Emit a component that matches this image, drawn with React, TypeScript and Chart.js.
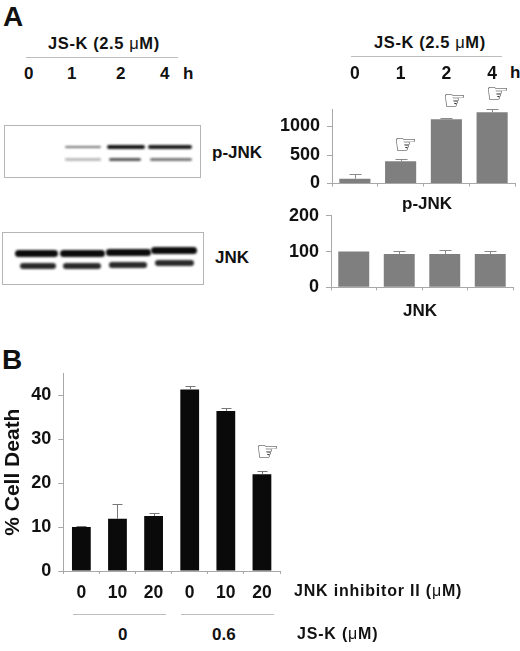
import React, { useEffect, useRef } from "react";
import { Chart, registerables } from "chart.js";

Chart.register(...registerables);

const FONT = '"Liberation Sans", Arial, sans-serif';

const timeLabels = ["0", "1", "2", "4"];
const pJnkValues = [85, 390, 1126, 1249];
const pJnkErrorTops = [161, 424, 1149, 1300];
const pJnkTicks = [0, 500, 1000];
const jnkValues = [100, 93, 93, 93];
const jnkErrorTops = [100, 101, 105, 101];
const jnkTicks = [0, 100, 200];
const inhibitorLabels = ["0", "10", "20", "0", "10", "20"];
const deathValues = [10, 11.9, 12.5, 41.3, 36.4, 22];
const deathErrorTops = [10.2, 15.2, 13.2, 42, 37.1, 22.7];
const deathTicks = [0, 10, 20, 30, 40];

const errorBars = {
  id: "errorBars",
  afterDatasetsDraw(chart: any, _a: any, opts: any) {
    const { ctx, scales } = chart;
    const tops: number[] = opts.tops;
    const values: number[] = chart.data.datasets[0].data;
    ctx.save();
    ctx.strokeStyle = opts.color;
    ctx.lineWidth = 1;
    tops.forEach((top, i) => {
      if (top <= values[i]) return;
      const x = Math.round(scales.x.getPixelForValue(i)) + 0.5;
      const y0 = scales.y.getPixelForValue(values[i]);
      const y1 = Math.round(scales.y.getPixelForValue(top)) + 0.5;
      ctx.beginPath();
      ctx.moveTo(x, y0);
      ctx.lineTo(x, y1);
      ctx.moveTo(x - opts.cap, y1);
      ctx.lineTo(x + opts.cap, y1);
      ctx.stroke();
    });
    ctx.restore();
  },
};

type PanelProps = {
  left: number; top: number; width: number; height: number;
  labels: string[]; values: number[]; tops: number[]; yTicks: number[];
  color: string; errColor: string; cap: number;
  max: number; barPct: number;
  yWidth: number; xHeight: number; padTop: number; padRight: number;
  topAxisHeight?: number; yTitle?: string; showBottomLabels?: boolean; label: string;
};

function Panel(p: PanelProps) {
  const ref = useRef<HTMLCanvasElement>(null);
  useEffect(() => {
    const tickFont = { family: FONT, size: 17.5, weight: "bold" as const };
    const yFont = { family: FONT, size: 18, weight: "bold" as const };
    const axisGrey = "#a8a8a8";
    const scales: any = {
      x: {
        type: "category",
        position: "bottom",
        offset: true,
        afterFit: (s: any) => { s.height = p.xHeight; },
        border: { color: axisGrey },
        grid: { drawOnChartArea: false, drawTicks: true, tickLength: 3, color: axisGrey },
        ticks: {
          display: !!p.showBottomLabels,
          color: "#111",
          font: tickFont,
          padding: 9,
          autoSkip: false,
          maxRotation: 0,
        },
      },
      y: {
        min: 0,
        max: p.max,
        afterFit: (s: any) => { s.width = p.yWidth; },
        afterBuildTicks: (s: any) => { s.ticks = p.yTicks.map((value) => ({ value })); },
        border: { color: axisGrey },
        grid: { drawOnChartArea: false, tickLength: 5, color: axisGrey },
        ticks: { color: "#111", font: yFont, padding: 7, callback: (v: any) => String(v) },
        title: p.yTitle
          ? { display: true, text: p.yTitle, color: "#111", font: { family: FONT, size: 21, weight: "bold" }, padding: { top: 1, bottom: 0 } }
          : { display: false },
      },
    };
    if (p.topAxisHeight) {
      scales.xTop = {
        type: "category",
        position: "top",
        offset: true,
        afterFit: (s: any) => { s.height = p.topAxisHeight; },
        border: { display: false },
        grid: { display: false },
        ticks: { color: "#111", font: tickFont, padding: 17, maxRotation: 0 },
      };
    }
    const chart = new Chart(ref.current!, {
      type: "bar",
      data: {
        labels: p.labels,
        datasets: [{
          label: p.label,
          data: p.values,
          backgroundColor: p.color,
          barPercentage: p.barPct,
          categoryPercentage: 1,
        }],
      },
      options: {
        animation: false,
        responsive: false,
        layout: { padding: { top: p.padTop, right: p.padRight, left: 0, bottom: 0 } },
        plugins: {
          legend: { display: false },
          tooltip: { enabled: false },
          errorBars: { tops: p.tops, color: p.errColor, cap: p.cap },
        } as any,
        scales,
      },
      plugins: [errorBars],
    });
    return () => chart.destroy();
  }, []);
  return (
    <canvas
      ref={ref}
      width={p.width}
      height={p.height}
      style={{ position: "absolute", left: p.left, top: p.top, width: p.width, height: p.height }}
    />
  );
}

const T = (props: { x: number; y: number; s?: number; children: React.ReactNode; ls?: number }) => (
  <div
    style={{
      position: "absolute",
      left: props.x,
      top: props.y,
      transform: "translateY(-50%)",
      font: `bold ${props.s ?? 17}px ${FONT}`,
      color: "#111",
      whiteSpace: "nowrap",
      lineHeight: 1,
      letterSpacing: props.ls ?? 0,
    }}
  >
    {props.children}
  </div>
);

const Mu = () => <span style={{ fontWeight: 400 }}>μ</span>;

const Hand = ({ x, y, s = 26 }: { x: number; y: number; s?: number }) => (
  <div
    style={{
      position: "absolute",
      left: x,
      top: y,
      transform: "translateY(-50%)",
      font: `${s}px "DejaVu Sans"`,
      color: "#333",
      lineHeight: 1,
    }}
  >
    ☞
  </div>
);

const Rule = ({ x, y, w }: { x: number; y: number; w: number }) => (
  <div style={{ position: "absolute", left: x, top: y, width: w, height: 1, background: "#bdbdbd" }} />
);

const Box = ({ x, y, w, h }: { x: number; y: number; w: number; h: number }) => (
  <div
    style={{
      position: "absolute", left: x, top: y, width: w, height: h,
      border: "1px solid #b5b5b5", boxSizing: "border-box",
    }}
  />
);

const Band = ({ x, y, w, h, c }: { x: number; y: number; w: number; h: number; c: string }) => (
  <div
    style={{
      position: "absolute", left: x, top: y - h / 2, width: w, height: h,
      background: c, borderRadius: h / 2, filter: "blur(0.8px)",
    }}
  />
);

export default function App() {
  return (
    <div style={{ position: "absolute", left: 0, top: 0, width: 520, height: 651, background: "#fff", overflow: "hidden" }}>
      <T x={3} y={17} s={28}>A</T>
      <T x={2} y={360} s={28}>B</T>

      <T x={48} y={43} s={16.5} ls={0.6}>JS-K (2.5 <Mu />M)</T>
      <Rule x={26} y={57} w={152} />
      <T x={24} y={73}>0</T>
      <T x={67} y={73}>1</T>
      <T x={116} y={73}>2</T>
      <T x={160} y={73}>4</T>
      <T x={183} y={73}>h</T>

      <Box x={4} y={125} w={197} h={53} />
      <Band x={65} y={146.5} w={36} h={2} c="#777" />
      <Band x={107} y={146.5} w={38} h={4} c="#151515" />
      <Band x={148} y={146.5} w={44} h={4} c="#1c1c1c" />
      <Band x={65} y={159.5} w={36} h={2.5} c="#bbb" />
      <Band x={109} y={159.5} w={32} h={3.5} c="#555" />
      <Band x={150} y={159.5} w={42} h={3} c="#777" />
      <T x={212} y={152}>p-JNK</T>

      <Box x={2} y={232} w={202} h={53} />
      <Band x={15} y={253} w={43} h={7} c="#0c0c0c" />
      <Band x={60} y={253.5} w={45} h={7} c="#0c0c0c" />
      <Band x={106} y={252.5} w={45} h={6.5} c="#0c0c0c" />
      <Band x={151} y={250.5} w={46} h={7.5} c="#0c0c0c" />
      <Band x={20} y={266} w={36} h={6} c="#2a2a2a" />
      <Band x={63} y={266} w={38} h={6} c="#2a2a2a" />
      <Band x={109} y={265} w={38} h={5.5} c="#2a2a2a" />
      <Band x={155} y={263} w={39} h={6} c="#2a2a2a" />
      <T x={215} y={257}>JNK</T>

      <T x={374} y={42} s={16.5} ls={0.6}>JS-K (2.5 <Mu />M)</T>
      <Rule x={351} y={56} w={151} />
      <T x={510} y={72}>h</T>

      <Panel
        label="p-JNK" left={270} top={55} width={270} height={150}
        labels={timeLabels} values={pJnkValues} tops={pJnkErrorTops} yTicks={pJnkTicks}
        color="#7f7f7f" errColor="#8a8a8a" cap={6}
        max={1300} barPct={0.68}
        yWidth={62} xHeight={21.5} padTop={0} padRight={25} topAxisHeight={54.4}
      />
      <T x={402} y={203}>p-JNK</T>
      <Hand x={394} y={144} />
      <Hand x={443} y={100} />
      <Hand x={486} y={93} />

      <Panel
        label="JNK" left={270} top={198} width={270} height={110}
        labels={timeLabels} values={jnkValues} tops={jnkErrorTops} yTicks={jnkTicks}
        color="#7f7f7f" errColor="#8a8a8a" cap={6}
        max={200} barPct={0.68}
        yWidth={61} xHeight={20.7} padTop={15.3} padRight={27}
      />
      <T x={403} y={310}>JNK</T>

      <Panel
        label="% Cell Death" left={0} top={340} width={300} height={270}
        labels={inhibitorLabels} values={deathValues} tops={deathErrorTops} yTicks={deathTicks}
        color="#0a0a0a" errColor="#777" cap={5}
        max={45} barPct={0.52}
        yWidth={63.3} xHeight={39} padTop={33.3} padRight={20}
        yTitle="% Cell Death" showBottomLabels
      />
      <Hand x={256} y={451} />

      <T x={294} y={591} s={16} ls={0.8}>JNK inhibitor II (<Mu />M)</T>
      <Rule x={73} y={614} w={93} />
      <Rule x={181} y={614} w={93} />
      <T x={118} y={634}>0</T>
      <T x={212} y={634}>0.6</T>
      <T x={297} y={634} s={16} ls={0.8}>JS-K (<Mu />M)</T>
    </div>
  );
}
